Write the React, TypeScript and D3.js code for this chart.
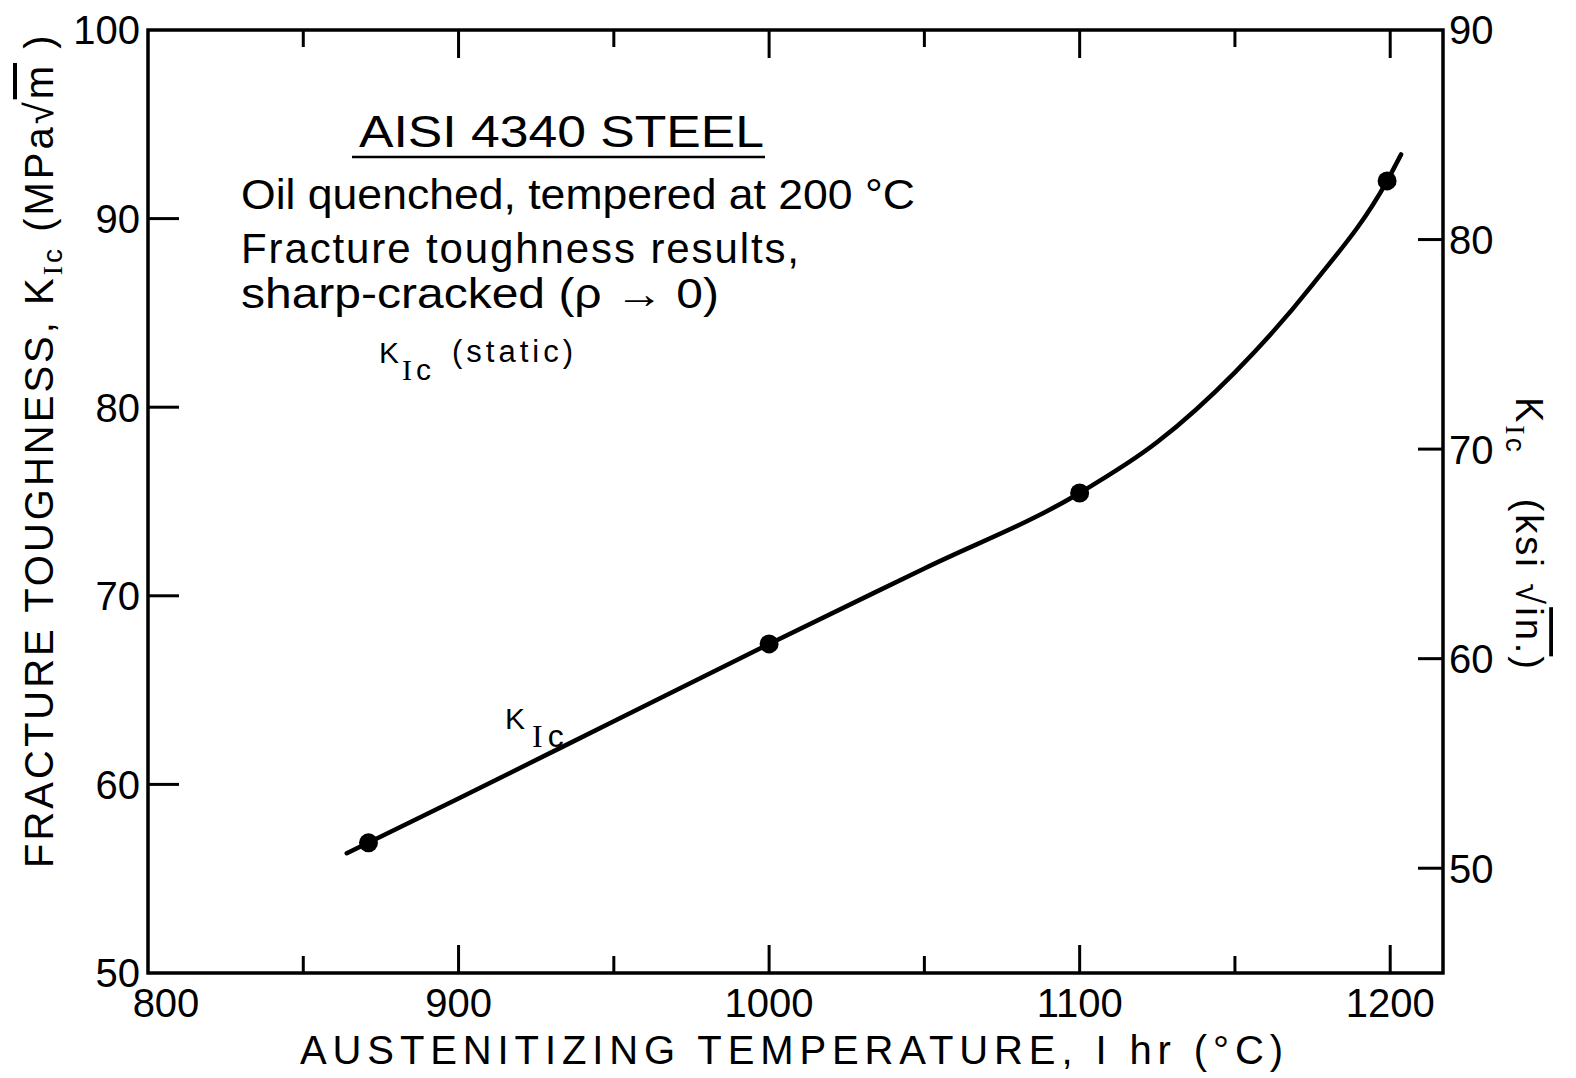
import React from "react";
import * as d3 from "d3";

// austenitizing temperature (°C) of the measured specimens
const tempPoints = [871, 1000, 1100, 1199];
// K_Ic in MPa·√m
const kicPoints = [56.9, 67.45, 75.45, 92.0];

// hand drawn fit curve
const curveTemp = [864, 900, 950, 1000, 1050, 1100, 1125, 1150, 1175, 1199, 1203.5];
const curveKic = [56.35, 59.25, 63.35, 67.45, 71.45, 75.45, 78.15, 81.85, 86.5, 92.0, 93.4];

const xMajor = [800, 900, 1000, 1100, 1200];
const xMinor = [850, 950, 1050, 1150];
const leftTicks = [50, 60, 70, 80, 90, 100];
const rightTicks = [50, 60, 70, 80, 90];

const font = "'Liberation Sans', Arial, sans-serif";
const serif = "'Liberation Serif', serif";

const App = () => {
  const width = 1576;
  const height = 1078;
  const frame = { left: 148, top: 30, right: 1443, bottom: 973 };

  const x = d3.scaleLinear().domain([800, 1217]).range([frame.left, frame.right]);
  const y = d3.scaleLinear().domain([50, 100]).range([frame.bottom, frame.top]);
  // ksi sqrt(in) scale on the right side
  const yR = d3.scaleLinear().domain([45, 90]).range([frame.bottom, frame.top]);

  const line = d3
    .line<number>()
    .x((d, i) => x(curveTemp[i]))
    .y((d) => y(d))
    .curve(d3.curveMonotoneX);

  const sw = 3.5;

  return (
    <svg
      width={width}
      height={height}
      style={{ position: "absolute", left: 0, top: 0, background: "#fff" }}
      fontFamily={font}
    >
      <rect x={0} y={0} width={width} height={height} fill="#fff" />

      {/* frame */}
      <rect
        x={frame.left}
        y={frame.top}
        width={frame.right - frame.left}
        height={frame.bottom - frame.top}
        fill="none"
        stroke="#000"
        strokeWidth={sw}
      />

      {/* x ticks, bottom and top */}
      {xMajor.slice(1).map((t) => (
        <g key={"xm" + t}>
          <line x1={x(t)} x2={x(t)} y1={frame.bottom} y2={frame.bottom - 28} stroke="#000" strokeWidth={3} />
          <line x1={x(t)} x2={x(t)} y1={frame.top} y2={frame.top + 28} stroke="#000" strokeWidth={3} />
        </g>
      ))}
      {xMinor.map((t) => (
        <g key={"xn" + t}>
          <line x1={x(t)} x2={x(t)} y1={frame.bottom} y2={frame.bottom - 17} stroke="#000" strokeWidth={3} />
          <line x1={x(t)} x2={x(t)} y1={frame.top} y2={frame.top + 17} stroke="#000" strokeWidth={3} />
        </g>
      ))}
      {xMajor.map((t) => (
        <text
          key={"xl" + t}
          x={x(t) + (t === 800 ? 18 : 0)}
          y={1017}
          textAnchor="middle"
          fontSize={40}
        >
          {t}
        </text>
      ))}

      {/* left axis */}
      {leftTicks
        .filter((t) => t > 50 && t < 100)
        .map((t) => (
          <line key={"lt" + t} x1={frame.left} x2={frame.left + 31} y1={y(t)} y2={y(t)} stroke="#000" strokeWidth={3} />
        ))}
      {leftTicks.map((t) => (
        <text key={"ll" + t} x={frame.left - 8} y={y(t)} dy="0.36em" textAnchor="end" fontSize={40}>
          {t}
        </text>
      ))}

      {/* right axis */}
      {rightTicks
        .filter((t) => t < 90)
        .map((t) => (
          <line key={"rt" + t} x1={frame.right} x2={frame.right - 25} y1={yR(t)} y2={yR(t)} stroke="#000" strokeWidth={3} />
        ))}
      {rightTicks.map((t) => (
        <text key={"rl" + t} x={frame.right + 6} y={yR(t)} dy="0.36em" textAnchor="start" fontSize={40}>
          {t}
        </text>
      ))}

      {/* x title */}
      <text x={300} y={1064} fontSize={40} textLength={983} lengthAdjust="spacing">
        AUSTENITIZING TEMPERATURE, I hr  (°C)
      </text>

      {/* left title */}
      <text transform="translate(53,868) rotate(-90)" fontSize={40} letterSpacing={3}>
        <tspan>FRACTURE TOUGHNESS, K</tspan>
        <tspan fontSize={28} dy={9} fontFamily={serif}>I</tspan>
        <tspan fontSize={28}>c</tspan>
        <tspan dy={-9}> (MPa√</tspan>
        <tspan textDecoration="overline">m</tspan>
        <tspan> )</tspan>
      </text>

      {/* right title */}
      <text transform="translate(1516,397) rotate(90)" fontSize={38} letterSpacing={3}>
        <tspan>K</tspan>
        <tspan fontSize={28} dy={10} fontFamily={serif}>I</tspan>
        <tspan fontSize={28}>c</tspan>
        <tspan dy={-10} dx={44}>(ksi </tspan>
        <tspan>√</tspan>
        <tspan textDecoration="overline">in.</tspan>
        <tspan>)</tspan>
      </text>

      {/* annotation */}
      <text x={359} y={147} fontSize={44} textLength={405} lengthAdjust="spacingAndGlyphs">
        AISI 4340 STEEL
      </text>
      <line x1={352} x2={765} y1={157} y2={157} stroke="#000" strokeWidth={2.5} />
      <text x={241} y={209} fontSize={42} textLength={674} lengthAdjust="spacingAndGlyphs">
        Oil quenched, tempered at 200 °C
      </text>
      <text x={241} y={263} fontSize={42} textLength={558} lengthAdjust="spacing">
        Fracture toughness results,
      </text>
      <text x={241} y={308} fontSize={42} textLength={478} lengthAdjust="spacingAndGlyphs">
        sharp-cracked  (ρ → 0)
      </text>
      <text x={379} y={363} fontSize={30}>
        <tspan>K</tspan>
        <tspan fontSize={30} dy={17} dx={3} fontFamily={serif} letterSpacing={4}>I</tspan>
        <tspan fontSize={30}>c</tspan>
      </text>
      <text x={452} y={362} fontSize={31} letterSpacing={4}>
        (static)
      </text>

      {/* curve */}
      <path d={line(curveKic) || ""} fill="none" stroke="#000" strokeWidth={4.5} strokeLinecap="round" />
      {tempPoints.map((t, i) => (
        <circle key={"p" + t} cx={x(t)} cy={y(kicPoints[i])} r={9.5} fill="#000" />
      ))}

      {/* curve label */}
      <text x={505} y={729} fontSize={30}>
        <tspan>K</tspan>
        <tspan fontSize={32} dy={18} dx={7} fontFamily={serif} letterSpacing={5}>I</tspan>
        <tspan fontSize={32}>c</tspan>
      </text>
    </svg>
  );
};

export default App;
